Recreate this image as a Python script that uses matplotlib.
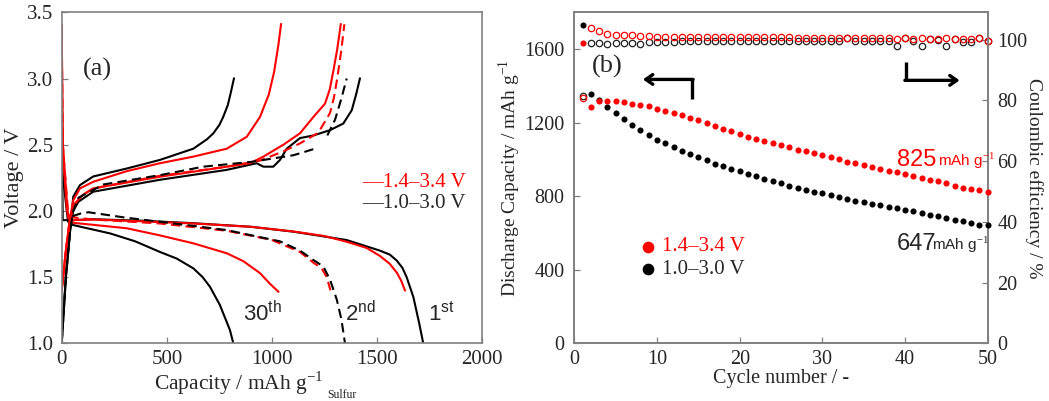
import numpy as np
import matplotlib
matplotlib.use("Agg")
import matplotlib.pyplot as plt

plt.rcParams['font.family'] = ['Liberation Serif', 'DejaVu Serif']
plt.rcParams['mathtext.fontset'] = 'custom'
plt.rcParams['mathtext.rm'] = 'Liberation Serif'
plt.rcParams['mathtext.sf'] = 'Liberation Sans'

# ---------------- Panel (a) data: capacity (mAh g-1) / voltage (V) ----------------
# 1.4-3.4 V window (red)
red_dis1_cap = [0, 4, 10, 25, 45, 150, 400, 626, 900, 1101, 1250, 1355, 1450, 1513, 1560, 1595, 1615, 1632]
red_dis1_v   = [3.40, 2.60, 2.35, 2.00, 1.93, 1.935, 1.92, 1.905, 1.88, 1.845, 1.81, 1.767, 1.72, 1.66, 1.60, 1.53, 1.47, 1.40]
red_chg1_cap = [0, 20, 40, 60, 100, 150, 467, 785, 895, 959, 1054, 1133, 1197, 1252, 1275, 1292, 1310, 1327]
red_chg1_v   = [1.40, 1.70, 1.95, 2.05, 2.12, 2.17, 2.258, 2.334, 2.36, 2.41, 2.50, 2.586, 2.71, 2.81, 2.92, 3.06, 3.22, 3.41]
red_dis2_cap = [0, 5, 30, 60, 150, 467, 785, 1000, 1133, 1196, 1236, 1260, 1278]
red_dis2_v   = [3.40, 2.50, 2.00, 1.95, 1.935, 1.905, 1.85, 1.78, 1.69, 1.61, 1.566, 1.50, 1.40]
red_chg2_cap = [0, 20, 40, 60, 100, 150, 467, 785, 943, 1054, 1133, 1220, 1276, 1295, 1311, 1330, 1344]
red_chg2_v   = [1.40, 1.70, 1.95, 2.05, 2.12, 2.17, 2.265, 2.334, 2.38, 2.45, 2.51, 2.59, 2.74, 2.86, 3.01, 3.22, 3.41]
red_dis30_cap = [0, 5, 30, 55, 309, 467, 626, 785, 864, 943, 990, 1030]
red_dis30_v   = [3.40, 2.50, 1.95, 1.91, 1.869, 1.815, 1.755, 1.68, 1.62, 1.53, 1.45, 1.39]
red_chg30_cap = [0, 20, 40, 55, 87, 150, 309, 467, 626, 785, 880, 943, 985, 1010, 1030, 1043]
red_chg30_v   = [1.40, 1.70, 1.95, 2.08, 2.17, 2.22, 2.30, 2.36, 2.41, 2.47, 2.56, 2.71, 2.88, 3.05, 3.25, 3.41]
# 1.0-3.0 V window (black)
blk_dis1_cap = [0, 2, 5, 45, 150, 400, 626, 900, 1101, 1355, 1513, 1560, 1593, 1620, 1640, 1672, 1700, 1719]
blk_dis1_v   = [3.10, 2.40, 1.93, 1.93, 1.937, 1.925, 1.907, 1.88, 1.843, 1.78, 1.70, 1.67, 1.625, 1.57, 1.50, 1.35, 1.15, 1.00]
blk_chg1_cap = [0, 20, 40, 55, 80, 150, 467, 785, 927, 959, 1006, 1038, 1070, 1133, 1197, 1276, 1339, 1379, 1400, 1418]
blk_chg1_v   = [1.00, 1.50, 1.85, 2.00, 2.07, 2.145, 2.235, 2.31, 2.36, 2.334, 2.334, 2.385, 2.47, 2.55, 2.57, 2.61, 2.66, 2.76, 2.88, 3.00]
blk_dis2_cap = [50, 90, 127, 300, 467, 785, 1038, 1133, 1196, 1244, 1276, 1308, 1330, 1347]
blk_dis2_v   = [1.96, 1.98, 1.99, 1.95, 1.918, 1.855, 1.77, 1.70, 1.63, 1.58, 1.48, 1.33, 1.18, 1.00]
blk_chg2_cap = [0, 20, 40, 55, 80, 200, 467, 673, 900, 1100, 1133, 1204, np.nan, 1263, 1300, 1330, 1355]
blk_chg2_v   = [1.00, 1.50, 1.85, 2.00, 2.10, 2.20, 2.27, 2.334, 2.37, 2.42, 2.435, 2.47, np.nan, 2.57, 2.69, 2.85, 3.00]
blk_dis30_cap = [0, 3, 30, 55, 230, 350, 467, 547, 626, 670, 705, 752, 800, 816]
blk_dis30_v   = [3.00, 2.30, 1.92, 1.893, 1.83, 1.77, 1.69, 1.64, 1.566, 1.50, 1.427, 1.29, 1.10, 1.00]
blk_chg30_cap = [0, 20, 40, 55, 87, 150, 309, 467, 626, 690, 721, 750, 768, 790, 805, 819]
blk_chg30_v   = [1.00, 1.50, 1.85, 2.107, 2.195, 2.26, 2.32, 2.385, 2.47, 2.54, 2.586, 2.65, 2.71, 2.80, 2.90, 3.00]

# ---------------- Panel (b) data ----------------
cycles = list(range(1, 51))
red_cap = [1633, 1285, 1316, 1316, 1318, 1312, 1303, 1298, 1289, 1276,
           1265, 1253, 1240, 1225, 1213, 1198, 1182, 1167, 1153, 1140,
           1124, 1111, 1099, 1090, 1079, 1066, 1053, 1046, 1035, 1023,
           1014, 1001, 988, 979, 970, 959, 950, 939, 929, 919,
           909, 900, 889, 880, 871, 858, 847, 840, 833, 822]
blk_cap = [1729, 1356, 1321, 1287, 1251, 1220, 1189, 1162, 1131, 1108,
           1088, 1066, 1044, 1028, 1014, 997, 977, 965, 948, 936,
           923, 909, 896, 881, 871, 856, 845, 834, 825, 818,
           807, 795, 784, 776, 767, 760, 753, 742, 735, 724,
           717, 710, 697, 690, 682, 672, 666, 655, 646, 643]
red_ce = [80.8, 103.7, 102.7, 102.0, 101.6, 101.5, 101.5, 101.2, 101.1, 101.0,
          100.8, 100.8, 100.8, 100.8, 100.8, 100.8, 100.8, 100.8, 100.8, 100.8,
          100.8, 100.8, 100.8, 100.8, 100.8, 100.8, 100.7, 100.7, 100.7, 100.7,
          100.7, 100.7, 100.7, 100.7, 100.7, 100.7, 100.7, 100.6, 100.3, 100.5,
          100.3, 100.4, 100.3, 100.3, 100.4, 100.3, 100.2, 100.2, 100.4, 99.7]
blk_ce = [81.4, 98.9, 98.9, 98.5, 98.8, 98.8, 99.0, 98.5, 99.3, 99.3,
          99.3, 99.3, 99.4, 99.4, 99.4, 99.6, 99.6, 99.6, 99.6, 99.6,
          99.6, 99.6, 99.6, 99.6, 99.6, 99.6, 99.6, 99.6, 99.6, 99.6,
          99.6, 99.6, 100.5, 99.5, 99.5, 99.5, 99.5, 99.5, 97.8, 100.4,
          99.5, 97.9, 100.2, 100.0, 97.8, 100.2, 99.3, 99.3, 100.4, 99.6]

RED = '#ff0000'
GRAY = '#808080'
TXT = '#262626'

fig = plt.figure(figsize=(10.49, 4.01), dpi=100)
ax1 = fig.add_axes([0.0588, 0.1439, 0.4010, 0.8254])
ax2 = fig.add_axes([0.5475, 0.1439, 0.3941, 0.8254])

lw = 1.5
ds = (4.5, 2.5)
ax1.plot(blk_dis30_cap, blk_dis30_v, color='black', lw=lw)
ax1.plot(blk_chg30_cap, blk_chg30_v, color='black', lw=lw)
ax1.plot(blk_dis1_cap, blk_dis1_v, color='black', lw=lw)
ax1.plot(blk_chg1_cap, blk_chg1_v, color='black', lw=lw)
ax1.plot(red_dis30_cap, red_dis30_v, color=RED, lw=lw)
ax1.plot(red_chg30_cap, red_chg30_v, color=RED, lw=lw)
ax1.plot(red_dis1_cap, red_dis1_v, color=RED, lw=lw)
ax1.plot(red_chg1_cap, red_chg1_v, color=RED, lw=lw)
ax1.plot(red_dis2_cap, red_dis2_v, color=RED, lw=lw, dashes=ds)
ax1.plot(red_chg2_cap, red_chg2_v, color=RED, lw=lw, dashes=ds)
ax1.plot(blk_dis2_cap, blk_dis2_v, color='black', lw=lw, dashes=ds)
ax1.plot(blk_chg2_cap, blk_chg2_v, color='black', lw=lw, dashes=ds)

ax1.set_xlim(0, 2000)
ax1.set_ylim(1.0, 3.5)
ax1.set_xticks([0, 500, 1000, 1500, 2000])
ax1.set_yticks([1.0, 1.5, 2.0, 2.5, 3.0, 3.5])
ax1.set_yticklabels(['1.0', '1.5', '2.0', '2.5', '3.0', '3.5'])
ax1.set_ylabel('Voltage / V', fontsize=16, color=TXT, labelpad=2)
ax1.set_xlabel('Capacity / mAh g$^{-1}$', fontsize=15.5, color=TXT, labelpad=0,
               ha='right', va='center')
ax1.xaxis.set_label_coords(0.622, -0.12)
ax1.text(0.632, -0.157, 'Sulfur', transform=ax1.transAxes, fontsize=8.5, color=TXT, ha='left', va='center')
ax1.text(0.05, 0.826, '(a)', transform=ax1.transAxes, fontsize=19, color=TXT, va='center')
ax1.text(0.715, 0.486, '\u20141.4\u20133.4 V', transform=ax1.transAxes, fontsize=15, color=RED, va='center')
ax1.text(0.715, 0.423, '\u20141.0\u20133.0 V', transform=ax1.transAxes, fontsize=15, color=TXT, va='center')
sans = ['Liberation Sans', 'DejaVu Sans']
ax1.text(0.431, 0.068, '30$^{\\mathsf{th}}$', transform=ax1.transAxes, fontsize=16, color=TXT, family=sans)
ax1.text(0.674, 0.068, '2$^{\\mathsf{nd}}$', transform=ax1.transAxes, fontsize=16, color=TXT, family=sans)
ax1.text(0.871, 0.068, '1$^{\\mathsf{st}}$', transform=ax1.transAxes, fontsize=16, color=TXT, family=sans)

# ---- panel (b)
ax3 = ax2.twinx()
ax3.plot(cycles, blk_ce, 'o', ms=4.6, mfc='none', mec='#202020', mew=0.9, clip_on=False, zorder=3)
ax3.plot(cycles, red_ce, 'o', ms=4.6, mfc='none', mec=RED, mew=0.9, clip_on=False, zorder=3)
ax2.plot(cycles, blk_cap, 'o', ms=4.4, color='black', mec='none', clip_on=False, zorder=3)
ax2.plot(cycles, red_cap, 'o', ms=4.4, color=RED, mec='none', clip_on=False, zorder=3)
ax2.set_zorder(ax3.get_zorder() + 1)
ax2.patch.set_visible(False)

ax2.set_xlim(0, 50)
ax2.set_ylim(0, 1800)
ax3.set_ylim(0, 109)
ax2.set_xticks([0, 10, 20, 30, 40, 50])
ax2.set_yticks([0, 400, 800, 1200, 1600])
ax3.set_yticks([0, 20, 40, 60, 80, 100])
ax2.set_xlabel('Cycle number / -', fontsize=14.5, color=TXT, labelpad=0)
ax2.set_ylabel('Discharge Capacity / mAh g$^{-1}$', fontsize=14, color=TXT, labelpad=1)
ax3.set_ylabel('Coulombic efficiency / %', fontsize=14, color=TXT, rotation=270, labelpad=11)
ax2.text(0.043, 0.835, '(b)', transform=ax2.transAxes, fontsize=19, color=TXT, va='center')

# axis-direction arrows
ax2.plot([14.27, 14.27], [1327, 1435], color='black', lw=2.4, solid_capstyle='butt')
ax2.annotate('', xy=(8.3, 1435), xytext=(14.37, 1435),
             arrowprops=dict(arrowstyle='->,head_length=0.5,head_width=0.35', lw=2.4, color='black', shrinkA=0, shrinkB=0))
ax2.plot([40.08, 40.08], [1529, 1430], color='black', lw=2.4, solid_capstyle='butt')
ax2.annotate('', xy=(46.6, 1430), xytext=(39.98, 1430),
             arrowprops=dict(arrowstyle='->,head_length=0.5,head_width=0.35', lw=2.4, color='black', shrinkA=0, shrinkB=0))

ax2.text(39.0, 965, '825', fontsize=17, color=RED, family=sans, va='baseline')
ax2.text(44.0, 965, 'mAh g$^{-1}$', fontsize=11, color=RED, family=sans, va='baseline')
ax2.text(39.0, 505, '647', fontsize=17, color=TXT, family=sans, va='baseline')
ax2.text(43.3, 505, 'mAh g$^{-1}$', fontsize=11, color=TXT, family=sans, va='baseline')

# legend of panel b
ax2.plot([0.178], [0.291], 'o', ms=8.4, color=RED, mec='none', transform=ax2.transAxes, clip_on=False)
ax2.plot([0.178], [0.224], 'o', ms=8.4, color='black', mec='none', transform=ax2.transAxes, clip_on=False)
ax2.text(0.212, 0.291, '1.4\u20133.4 V', transform=ax2.transAxes, fontsize=15, color=RED, va='center')
ax2.text(0.212, 0.224, '1.0\u20133.0 V', transform=ax2.transAxes, fontsize=15, color=TXT, va='center')

for ax in (ax1, ax2, ax3):
    for s in ax.spines.values():
        s.set_color(GRAY)
        s.set_linewidth(1.2)
    ax.tick_params(direction='in', length=4, width=0.9, color=GRAY, labelcolor=TXT)
ax1.tick_params(labelsize=15)
ax1.tick_params(axis='y', pad=6)
ax1.tick_params(axis='x', pad=5)
ax2.tick_params(labelsize=14.5)
ax2.tick_params(axis='y', pad=7)
ax2.tick_params(axis='x', pad=5)
ax3.tick_params(labelsize=14.5, pad=7)

fig.savefig('out.png', dpi=100)
